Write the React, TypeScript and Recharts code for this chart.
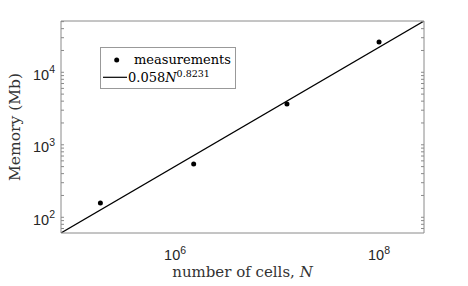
import React from 'react';
import { ComposedChart, XAxis, YAxis, Line, Scatter, Legend } from 'recharts';

// ---- data ----
const measuredCells = [1.85e5, 1.52e6, 1.25e7, 1.0e8];
const measuredMemory = [157, 543, 3640, 26200];
const fitCells = [7.6e4, 2.76e8];
const fitMemory = [60.7, 51000];

const xDomain = [7.6e4, 2.76e8];
const yDomain = [60.7, 51000];

const xLabelTicks = [1e6, 1e8];
const xAllTicks = [
  8e4, 9e4, 1e5, 2e5, 3e5, 4e5, 5e5, 6e5, 7e5, 8e5, 9e5,
  1e6, 2e6, 3e6, 4e6, 5e6, 6e6, 7e6, 8e6, 9e6,
  1e7, 2e7, 3e7, 4e7, 5e7, 6e7, 7e7, 8e7, 9e7,
  1e8, 2e8,
];
const yLabelTicks = [1e2, 1e3, 1e4];
const yAllTicks = [
  70, 80, 90, 100, 200, 300, 400, 500, 600, 700, 800, 900,
  1000, 2000, 3000, 4000, 5000, 6000, 7000, 8000, 9000,
  10000, 20000, 30000, 40000, 50000,
];

const seriesMeasured = 'measurements';
const seriesFitCoef = '0.058';
const seriesFitVar = 'N';
const seriesFitExp = '0.8231';
const xTitle = 'number of cells, ';
const xTitleVar = 'N';
const yTitle = 'Memory (Mb)';

const measuredData = measuredCells.map((n, i) => ({ n, mb: measuredMemory[i] }));
const fitData = fitCells.map((n, i) => ({ n, mb: fitMemory[i] }));

const BOX = '#8a8a8a';
const TICKTXT = '#262626';
const SANS = '"Liberation Sans", Arial, sans-serif';
const SERIF = '"DejaVu Serif", serif';

const XTick = (props: any) => {
  const { x, y, payload } = props;
  const exp = Math.round(Math.log10(payload.value));
  return (
    <text x={x} y={y + 27} textAnchor="middle" fontFamily={SANS} fontSize={14.5} fill={TICKTXT}>
      <tspan>10</tspan>
      <tspan dy={-6.5} fontSize={10.5}>{exp}</tspan>
    </text>
  );
};

const YTick = (props: any) => {
  const { x, y, payload } = props;
  const exp = Math.round(Math.log10(payload.value));
  return (
    <text x={x - 6} y={y + 7.7} textAnchor="end" fontFamily={SANS} fontSize={14.5} fill={TICKTXT}>
      <tspan>10</tspan>
      <tspan dy={-6.5} fontSize={10.5}>{exp}</tspan>
    </text>
  );
};

const EmptyTick = () => <g />;

const XTitle = (props: any) => {
  const { viewBox } = props;
  const cx = viewBox.x + viewBox.width / 2;
  return (
    <text x={cx} y={viewBox.y + 44} textAnchor="middle" fontFamily={SERIF} fontSize={15} fill="#333">
      <tspan>{xTitle}</tspan>
      <tspan fontStyle="italic">{xTitleVar}</tspan>
    </text>
  );
};

const YTitle = (props: any) => {
  const { viewBox } = props;
  const cx = viewBox.x + 20;
  const cy = viewBox.y + viewBox.height / 2;
  return (
    <text x={cx} y={cy} textAnchor="middle" fontFamily={SERIF} fontSize={15.5} fill="#333"
      transform={`rotate(-90, ${cx}, ${cy})`}>
      {yTitle}
    </text>
  );
};

const LegendBox = () => (
  <svg width={136} height={42} style={{ display: 'block' }}>
    <rect x={0.5} y={0.5} width={135} height={41} fill="#fff" stroke="#999" />
    <circle cx={16.7} cy={13} r={2.5} fill="#000" />
    <text x={34} y={16.8} fontFamily={SERIF} fontSize={13} fill="#000">{seriesMeasured}</text>
    <line x1={3} x2={27} y1={30.3} y2={30.3} stroke="#000" strokeWidth={1.2} />
    <text x={28} y={34.7} fontFamily={SERIF} fontSize={13} fill="#000">
      <tspan>{seriesFitCoef}</tspan>
      <tspan fontStyle="italic">{seriesFitVar}</tspan>
      <tspan dy={-5} fontSize={9.5}>{seriesFitExp}</tspan>
    </text>
  </svg>
);

const Dot = (props: any) => <circle cx={props.cx} cy={props.cy} r={2.5} fill="#000" />;

const mirrorX = {
  type: 'number' as const,
  scale: 'log' as const,
  domain: xDomain,
  allowDataOverflow: true,
  ticks: xAllTicks,
  interval: 0 as const,
  tick: <EmptyTick />,
  mirror: true,
  height: 1,
  tickSize: 3,
  stroke: BOX,
  tickLine: { stroke: BOX },
  axisLine: { stroke: BOX },
};
const mirrorY = {
  type: 'number' as const,
  scale: 'log' as const,
  domain: yDomain,
  allowDataOverflow: true,
  ticks: yAllTicks,
  interval: 0 as const,
  tick: <EmptyTick />,
  mirror: true,
  width: 1,
  tickSize: 3,
  stroke: BOX,
  tickLine: { stroke: BOX },
  axisLine: { stroke: BOX },
};

export default function App() {
  return (
    <div style={{ position: 'absolute', left: 0, top: 0, background: '#fff' }}>
      <ComposedChart width={468} height={286} margin={{ top: 21, right: 44, bottom: 0, left: 0 }}>
        <XAxis xAxisId="main" type="number" dataKey="n" scale="log" domain={xDomain} allowDataOverflow
          ticks={xLabelTicks} interval={0} tickLine={false} axisLine={false} tickSize={0} tickMargin={0}
          tick={<XTick />} height={53} label={<XTitle />} />
        <XAxis xAxisId="bottomTicks" orientation="bottom" {...mirrorX} />
        <XAxis xAxisId="topTicks" orientation="top" {...mirrorX} />
        <YAxis yAxisId="main" type="number" dataKey="mb" scale="log" domain={yDomain} allowDataOverflow
          ticks={yLabelTicks} interval={0} tickLine={false} axisLine={false} tickSize={0} tickMargin={0}
          tick={<YTick />} width={61} label={<YTitle />} />
        <YAxis yAxisId="leftTicks" orientation="left" {...mirrorY} />
        <YAxis yAxisId="rightTicks" orientation="right" {...mirrorY} />
        <Line xAxisId="main" yAxisId="main" data={fitData} dataKey="mb" type="linear" stroke="#000"
          strokeWidth={1.2} dot={false} activeDot={false} isAnimationActive={false} name="fit" />
        <Scatter xAxisId="main" yAxisId="main" data={measuredData} dataKey="mb" shape={<Dot />}
          isAnimationActive={false} name={seriesMeasured} />
        <Legend layout="vertical" align="center" verticalAlign="middle" content={<LegendBox />}
          wrapperStyle={{ position: 'absolute', left: 100, top: 47, width: 136, height: 42 }} />
      </ComposedChart>
    </div>
  );
}
